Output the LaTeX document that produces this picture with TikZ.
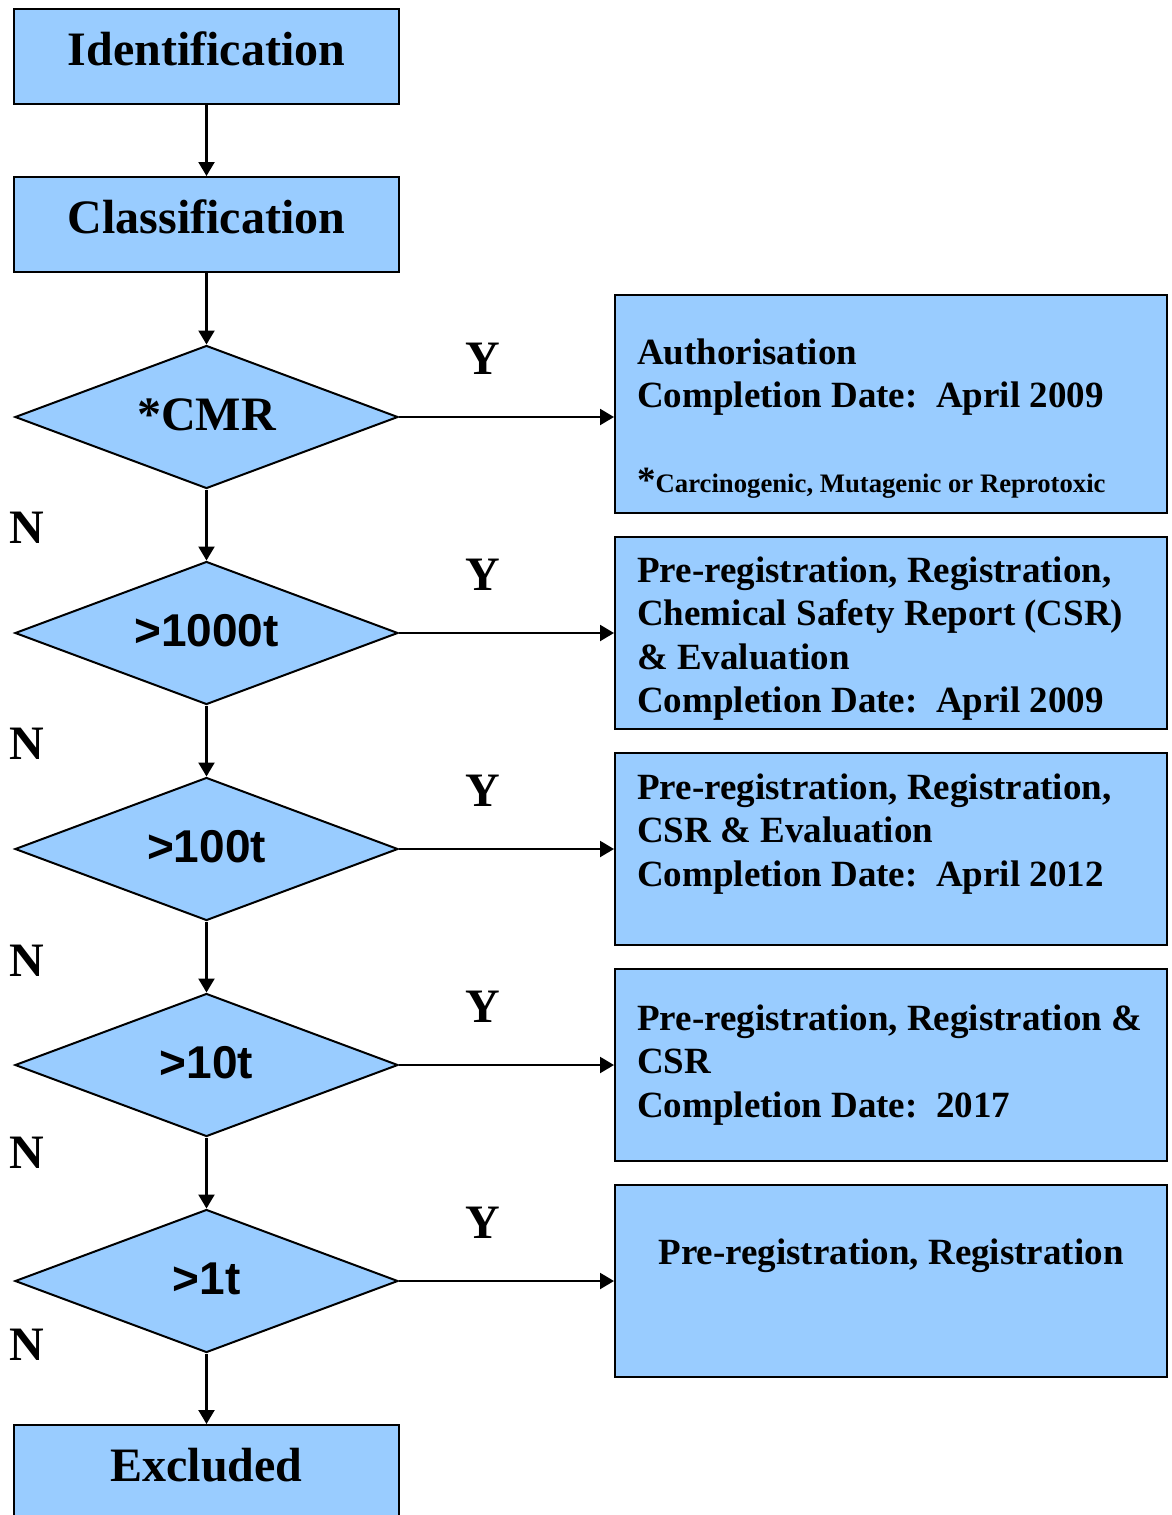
\documentclass[tikz,border=0pt]{standalone}
\usepackage{fontspec}
\setmainfont{Liberation Serif}
\newfontfamily\arialfont{Liberation Sans}
\usetikzlibrary{shapes.geometric,arrows.meta}
\definecolor{boxblue}{HTML}{99CCFF}
\begin{document}
\begin{tikzpicture}[x=1pt,y=-1pt,
  outline/.style={draw=black,fill=boxblue,line width=2pt,inner sep=0pt},
  bigbox/.style={outline,minimum width=385pt,minimum height=95pt,
    font=\fontsize{48}{58}\selectfont\bfseries,text height=30pt,text depth=13pt},
  decision/.style={outline,diamond,aspect=2.68,minimum width=383pt,minimum height=143pt,
    text height=32pt,text depth=6pt},
  cmrfont/.style={font=\fontsize{48}{58}\selectfont\bfseries},
  sansfont/.style={font=\fontsize{46}{56}\selectfont\arialfont\bfseries},
  resbox/.style={outline,minimum width=552pt},
  boxtxt/.style={anchor=base west,inner sep=0pt,font=\fontsize{37}{43.5}\selectfont\bfseries},
  yn/.style={anchor=base,inner sep=0pt,font=\fontsize{48}{58}\selectfont\bfseries},
  arr/.style={line width=2.2pt,-{Triangle[length=14pt,width=16pt]}}]
\useasboundingbox (0,0) rectangle (1172,1515);

% left column
\node[bigbox] (ident) at (206.5,56.5) {Identification};
\node[bigbox] (class) at (206.5,224.5) {Classification};
\node[decision,cmrfont] (cmr) at (206.5,417) {*CMR};
\node[decision,sansfont] (d1000) at (206.5,633) {>1000t};
\node[decision,sansfont] (d100) at (206.5,849) {>100t};
\node[decision,sansfont] (d10) at (206.5,1065) {>10t};
\node[decision,sansfont] (d1) at (206.5,1281) {>1t};
\node[bigbox] (excl) at (206.5,1472.5) {Excluded};

% right column boxes
\node[resbox,minimum height=218pt] (r1) at (891,404) {};
\node[resbox,minimum height=192pt] (r2) at (891,633) {};
\node[resbox,minimum height=192pt] (r3) at (891,849) {};
\node[resbox,minimum height=192pt] (r4) at (891,1065) {};
\node[resbox,minimum height=192pt] (r5) at (891,1281) {};

% box texts
\node[boxtxt] (t1) at (637,364) {\vtop{\hbox{Authorisation}\hbox{Completion Date:\ \ April 2009}}};
\node[boxtxt] (f1) at (637,492) {{\fontsize{37}{40}\selectfont *}\fontsize{26.7}{30}\selectfont Carcinogenic, Mutagenic or Reprotoxic};
\node[boxtxt] (t2) at (637,582) {\vtop{\hbox{Pre-registration, Registration,}\hbox{Chemical Safety Report (CSR)}\hbox{\& Evaluation}\hbox{Completion Date:\ \ April 2009}}};
\node[boxtxt] (t3) at (637,799) {\vtop{\hbox{Pre-registration, Registration,}\hbox{CSR \& Evaluation}\hbox{Completion Date:\ \ April 2012}}};
\node[boxtxt] (t4) at (637,1030) {\vtop{\hbox{Pre-registration, Registration \&}\hbox{CSR}\hbox{Completion Date:\ \ 2017}}};
\node[boxtxt,anchor=base] (t5) at (891,1264) {Pre-registration, Registration};

% vertical connectors
\draw[arr] (ident.south) -- (class.north);
\draw[arr] (class.south) -- (cmr.north);
\draw[arr] (cmr.south) -- (d1000.north);
\draw[arr] (d1000.south) -- (d100.north);
\draw[arr] (d100.south) -- (d10.north);
\draw[arr] (d10.south) -- (d1.north);
\draw[arr] (d1.south) -- (excl.north);

% horizontal connectors
\draw[arr] (cmr.east) -- (cmr.east -| r1.west);
\draw[arr] (d1000.east) -- (r2.west);
\draw[arr] (d100.east) -- (r3.west);
\draw[arr] (d10.east) -- (r4.west);
\draw[arr] (d1.east) -- (r5.west);

% Y labels
\node[yn] (y1) at (483,374) {Y};
\node[yn] (y2) at (483,590) {Y};
\node[yn] (y3) at (483,806) {Y};
\node[yn] (y4) at (483,1022) {Y};
\node[yn] (y5) at (483,1238) {Y};
% N labels
\node[yn] (n1) at (27,543) {N};
\node[yn] (n2) at (27,759) {N};
\node[yn] (n3) at (27,976) {N};
\node[yn] (n4) at (27,1168) {N};
\node[yn] (n5) at (27,1360) {N};
\end{tikzpicture}
\end{document}
